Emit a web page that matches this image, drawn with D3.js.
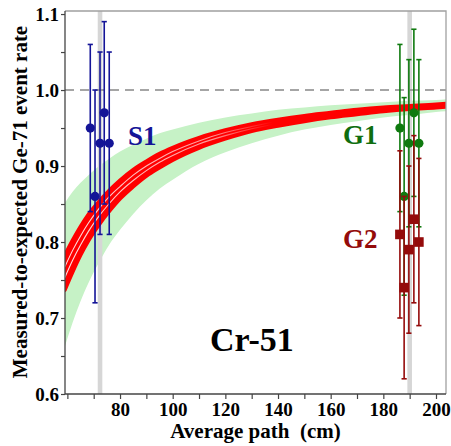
<!DOCTYPE html>
<html>
<head>
<meta charset="utf-8">
<script src="https://cdn.jsdelivr.net/npm/d3@7"></script>
<style>
  html, body { margin: 0; padding: 0; background: #fff; }
  svg text { font-family: "Liberation Serif", "Times New Roman", Tinos, "Nimbus Roman", "DejaVu Serif", serif !important; font-weight: bold; }
</style>
</head>
<body>
<svg id="chart" width="451" height="446"></svg>
<script>
// Average source-to-detector path (cm) where the model bands are sampled
const pathGrid = [59, 62, 65, 68, 72, 76, 80, 85, 90, 95, 100, 110, 120, 130, 140, 150, 160, 170, 180, 190, 200, 204];

// Allowed region (light green band)
const bandUpper = [0.851, 0.866, 0.878, 0.888, 0.900, 0.910, 0.919, 0.928, 0.936, 0.943, 0.948, 0.957, 0.964, 0.969, 0.974, 0.977, 0.980, 0.982, 0.984, 0.986, 0.987, 0.988];
const bandLower = [0.662, 0.694, 0.722, 0.746, 0.773, 0.797, 0.816, 0.837, 0.855, 0.870, 0.882, 0.903, 0.918, 0.930, 0.940, 0.948, 0.954, 0.959, 0.964, 0.967, 0.971, 0.972];

// Best-fit curves (red band)
const fitUpper = [0.782, 0.802, 0.820, 0.836, 0.853, 0.868, 0.881, 0.895, 0.906, 0.916, 0.924, 0.937, 0.947, 0.955, 0.961, 0.966, 0.970, 0.974, 0.977, 0.979, 0.981, 0.982];
const fitLower = [0.737, 0.761, 0.783, 0.802, 0.823, 0.841, 0.857, 0.873, 0.887, 0.898, 0.908, 0.924, 0.936, 0.946, 0.953, 0.959, 0.964, 0.968, 0.972, 0.975, 0.977, 0.978];
const seamPath = [59, 62, 65, 68, 72, 76, 80, 85, 90, 95, 100, 110, 120, 130, 140];
const seamA = [0.767, 0.789, 0.808, 0.825, 0.844, 0.860, 0.873, 0.888, 0.900, 0.910, 0.919, 0.933, 0.944, 0.952, 0.959];
const seamB = [0.753, 0.776, 0.796, 0.814, 0.834, 0.851, 0.866, 0.881, 0.894, 0.905, 0.914, 0.929, 0.940, 0.949, 0.956];

// Detector zone average paths (grey markers)
const zonePaths = [72.4, 190.0];

// S1 measurements
const s1Path = [68.7, 70.5, 72.4, 74.0, 75.9];
const s1Value = [0.95, 0.86, 0.93, 0.97, 0.93];
const s1Hi = [1.06, 1.00, 1.05, 1.09, 1.05];
const s1Lo = [0.84, 0.72, 0.81, 0.85, 0.81];

// G1 measurements
const g1Path = [186.3, 187.9, 189.7, 191.6, 193.5];
const g1Value = [0.95, 0.86, 0.93, 0.97, 0.93];
const g1Hi = [1.06, 0.99, 1.04, 1.08, 1.04];
const g1Lo = [0.84, 0.73, 0.82, 0.86, 0.82];

// G2 measurements
const g2Path = [186.3, 187.9, 189.7, 191.6, 193.5];
const g2Value = [0.81, 0.74, 0.79, 0.83, 0.80];
const g2Hi = [0.92, 0.86, 0.90, 0.94, 0.91];
const g2Lo = [0.70, 0.62, 0.68, 0.72, 0.69];

const xTickValues = d3.range(60, 201, 10);
const xLabelValues = [80, 100, 120, 140, 160, 180, 200];
const yTickValues = d3.range(0.6, 1.1001, 0.05);
const yLabelValues = [0.6, 0.7, 0.8, 0.9, 1.0, 1.1];

const W = 451, H = 446;
const plot = { left: 65, right: 446, top: 11, bottom: 394 };

const x = d3.scaleLinear().domain([59.1, 203.8]).range([plot.left, plot.right]);
const y = d3.scaleLinear().domain([0.6, 1.104]).range([plot.bottom, plot.top]);

const svg = d3.select("#chart");

svg.append("clipPath").attr("id", "plotClip")
  .append("rect")
  .attr("x", plot.left).attr("y", plot.top)
  .attr("width", plot.right - plot.left).attr("height", plot.bottom - plot.top);

const g = svg.append("g").attr("clip-path", "url(#plotClip)");

const rows = (xs, ...cols) => xs.map((p, i) => ({ p, v: cols.map(c => c[i]) }));

// Green allowed band
const band = rows(pathGrid, bandUpper, bandLower);
g.append("path")
  .datum(band)
  .attr("fill", "#c6f2c6")
  .attr("d", d3.area().curve(d3.curveMonotoneX)
    .x(d => x(d.p)).y0(d => y(d.v[1])).y1(d => y(d.v[0])));

// Grey zone markers
g.selectAll("rect.zone")
  .data(zonePaths)
  .join("rect")
  .attr("class", "zone")
  .attr("x", d => x(d) - 2.3)
  .attr("width", 4.6)
  .attr("y", plot.top)
  .attr("height", plot.bottom - plot.top)
  .attr("fill", "#d6d6d6");

// Red fit band
const fit = rows(pathGrid, fitUpper, fitLower);
g.append("path")
  .datum(fit)
  .attr("fill", "#ff0000")
  .attr("stroke", "#ff0000")
  .attr("stroke-width", 4)
  .attr("stroke-linejoin", "round")
  .attr("d", d3.area().curve(d3.curveMonotoneX)
    .x(d => x(d.p)).y0(d => y(d.v[1])).y1(d => y(d.v[0])));

// Thin light seams between the fit curves, fading out as they converge
const grad = svg.append("defs").append("linearGradient")
  .attr("id", "seamFade")
  .attr("gradientUnits", "userSpaceOnUse")
  .attr("x1", x(60)).attr("x2", x(138)).attr("y1", 0).attr("y2", 0);
grad.append("stop").attr("offset", 0).attr("stop-color", "#ffe0e0").attr("stop-opacity", 1);
grad.append("stop").attr("offset", 0.7).attr("stop-color", "#ffd8d8").attr("stop-opacity", 0.7);
grad.append("stop").attr("offset", 1).attr("stop-color", "#ffd8d8").attr("stop-opacity", 0);

const seamLine = d3.line().curve(d3.curveMonotoneX).x(d => x(d.p)).y(d => y(d.v[0]));
[seamA, seamB].forEach(s => {
  g.append("path")
    .datum(rows(seamPath, s))
    .attr("fill", "none")
    .attr("stroke", "url(#seamFade)")
    .attr("stroke-width", 1.1)
    .attr("d", seamLine);
});

// Reference line at unity
g.append("line")
  .attr("x1", plot.left).attr("x2", plot.right)
  .attr("y1", y(1.0)).attr("y2", y(1.0))
  .attr("stroke", "#888")
  .attr("stroke-width", 1.5)
  .attr("stroke-dasharray", "9,6");

// Frame: light top/right, darker axes
svg.append("path")
  .attr("d", `M${plot.left},${plot.top}H${plot.right}V${plot.bottom}`)
  .attr("fill", "none").attr("stroke", "#a0a0a0").attr("stroke-width", 1.3);

// Axes
const xAxis = d3.axisBottom(x).tickValues(xTickValues).tickSize(5)
  .tickFormat(d => xLabelValues.includes(d) ? d : "");
const yAxis = d3.axisLeft(y).tickValues(yTickValues).tickSize(4)
  .tickFormat(d => yLabelValues.some(v => Math.abs(v - d) < 1e-6) ? d3.format(".1f")(d) : "");

const gx = svg.append("g").attr("transform", `translate(0,${plot.bottom})`).call(xAxis);
gx.attr("font-family", null);
gx.select(".domain").attr("d", `M${plot.left},0H${plot.right}`).attr("stroke", "#444").attr("stroke-width", 1.3);
gx.selectAll(".tick line").attr("stroke", "#444").attr("stroke-width", 1.2);
gx.selectAll(".tick text").attr("font-size", 19).attr("fill", "#000").attr("y", 5).attr("dy", "0.9em");

const gy = svg.append("g").attr("transform", `translate(${plot.left},0)`).call(yAxis);
gy.attr("font-family", null);
gy.select(".domain").attr("d", `M0,${plot.top}V${plot.bottom}`).attr("stroke", "#444").attr("stroke-width", 1.3);
gy.selectAll(".tick line").attr("stroke", "#444").attr("stroke-width", 1.2);
gy.selectAll(".tick text").attr("font-size", 19).attr("fill", "#000").attr("x", -6);

// Axis titles
svg.append("text")
  .attr("x", (plot.left + plot.right) / 2).attr("y", 438)
  .attr("text-anchor", "middle")
  .attr("font-size", 21)
  .attr("fill", "#000")
  .attr("xml:space", "preserve")
  .text("Average path  (cm)");

svg.append("text")
  .attr("transform", `translate(27,${(plot.top + 385) / 2 + 4}) rotate(-90)`)
  .attr("text-anchor", "middle")
  .attr("font-size", 21)
  .attr("fill", "#000")
  .text("Measured-to-expected Ge-71 event rate");

// Measurement series with error bars
function drawSeries(paths, vals, his, los, color, shape) {
  const data = paths.map((p, i) => ({ p, v: vals[i], hi: his[i], lo: los[i] }));
  const grp = svg.append("g");
  grp.selectAll("line.bar").data(data).join("line")
    .attr("x1", d => x(d.p)).attr("x2", d => x(d.p))
    .attr("y1", d => y(d.hi)).attr("y2", d => y(d.lo))
    .attr("stroke", color).attr("stroke-width", 1.6);
  grp.selectAll("line.capHi").data(data).join("line")
    .attr("x1", d => x(d.p) - 2.6).attr("x2", d => x(d.p) + 2.6)
    .attr("y1", d => y(d.hi)).attr("y2", d => y(d.hi))
    .attr("stroke", color).attr("stroke-width", 1.6);
  grp.selectAll("line.capLo").data(data).join("line")
    .attr("x1", d => x(d.p) - 2.6).attr("x2", d => x(d.p) + 2.6)
    .attr("y1", d => y(d.lo)).attr("y2", d => y(d.lo))
    .attr("stroke", color).attr("stroke-width", 1.6);
  if (shape === "circle") {
    grp.selectAll("circle").data(data).join("circle")
      .attr("cx", d => x(d.p)).attr("cy", d => y(d.v)).attr("r", 4.6)
      .attr("fill", color);
  } else {
    grp.selectAll("rect").data(data).join("rect")
      .attr("x", d => x(d.p) - 4.8).attr("y", d => y(d.v) - 4.8)
      .attr("width", 9.6).attr("height", 9.6)
      .attr("fill", color);
  }
}

drawSeries(s1Path, s1Value, s1Hi, s1Lo, "#141497", "circle");
drawSeries(g1Path, g1Value, g1Hi, g1Lo, "#0f7a0f", "circle");
drawSeries(g2Path, g2Value, g2Hi, g2Lo, "#940b0b", "square");

// Series labels
const labels = [
  { t: "S1", px: 128, py: 145, c: "#141497", s: 27 },
  { t: "G1", px: 343, py: 144, c: "#0f6e0f", s: 27 },
  { t: "G2", px: 343, py: 248, c: "#940b0b", s: 27 },
  { t: "Cr-51", px: 210, py: 351, c: "#000", s: 34 }
];
svg.selectAll("text.lbl").data(labels).join("text")
  .attr("class", "lbl")
  .attr("x", d => d.px).attr("y", d => d.py)
  .attr("font-size", d => d.s)
  .attr("fill", d => d.c)
  .text(d => d.t);
</script>
</body>
</html>
